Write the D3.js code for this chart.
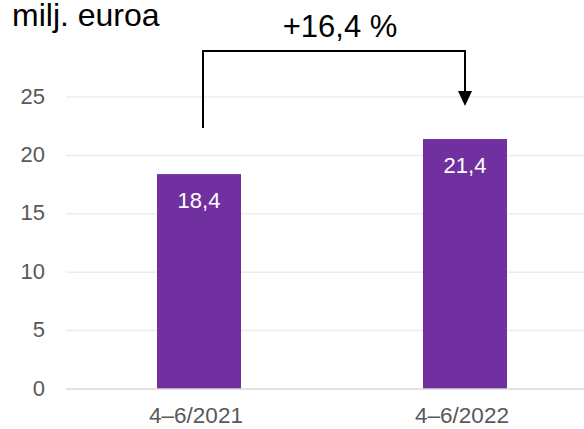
<!DOCTYPE html>
<html><head><meta charset="utf-8">
<script src="https://cdn.jsdelivr.net/npm/d3@7"></script>
<style>body{margin:0;background:#fff}svg{display:block}</style>
</head><body>
<script>
const categories = ["4–6/2021", "4–6/2022"];
const values = [18.4, 21.4];
const valueLabels = ["18,4", "21,4"];
const yTicks = [0, 5, 10, 15, 20, 25];
const unitLabel = "milj. euroa";
const changeLabel = "+16,4 %";

const W = 584, H = 429;
const svg = d3.select("body").append("svg").attr("width", W).attr("height", H);
const font = "Liberation Sans, Arial, sans-serif";

const y = d3.scaleLinear().domain([0, 25]).range([389, 97]);
const x = d3.scaleBand().domain(categories).range([66, 598]).padding(0);
const barW = 84;
const cx = c => x(c) + x.bandwidth() / 2;

// gridlines
svg.append("g").selectAll("line").data(yTicks.filter(d => d > 0)).join("line")
  .attr("x1", 66).attr("x2", W).attr("y1", d => y(d)).attr("y2", d => y(d))
  .attr("stroke", "#ececec").attr("stroke-width", 1.5);

// y labels
svg.append("g").selectAll("text").data(yTicks).join("text")
  .attr("x", 45).attr("y", d => y(d) + 6.5)
  .attr("text-anchor", "end").attr("font-family", font).attr("font-size", 22)
  .attr("fill", "#595959").text(d => d);

// bars
svg.append("g").selectAll("rect").data(values).join("rect")
  .attr("x", (d, i) => cx(categories[i]) - barW / 2)
  .attr("width", barW)
  .attr("y", d => y(d)).attr("height", d => y(0) - y(d))
  .attr("fill", "#7030A0");

// baseline
svg.append("line").attr("x1", 66).attr("x2", W).attr("y1", y(0)).attr("y2", y(0))
  .attr("stroke", "#d9d9d9").attr("stroke-width", 1.5);

// value labels
svg.append("g").selectAll("text").data(values).join("text")
  .attr("x", (d, i) => cx(categories[i]))
  .attr("y", d => y(d) + 34)
  .attr("text-anchor", "middle").attr("font-family", font).attr("font-size", 22)
  .attr("fill", "#fff").text((d, i) => valueLabels[i]);

// x labels
svg.append("g").selectAll("text").data(categories).join("text")
  .attr("x", d => cx(d) - 3).attr("y", 423)
  .attr("text-anchor", "middle").attr("font-family", font).attr("font-size", 22.5)
  .attr("fill", "#595959").text(d => d);

// unit label
svg.append("text").attr("x", 12).attr("y", 26).attr("font-family", font)
  .attr("font-size", 32).attr("fill", "#000").text(unitLabel);

// bracket
const xl = cx(categories[0]) + 4;
const xr = cx(categories[1]);
const topY = 51;
svg.append("path")
  .attr("d", `M${xl},128 L${xl},${topY} L${xr},${topY} L${xr},92`)
  .attr("fill", "none").attr("stroke", "#000").attr("stroke-width", 2);
svg.append("path")
  .attr("d", `M${xr - 7},91 L${xr + 7},91 L${xr},106 Z`).attr("fill", "#000");

svg.append("text").attr("x", 340).attr("y", 37)
  .attr("text-anchor", "middle").attr("font-family", font).attr("font-size", 31)
  .attr("fill", "#000").text(changeLabel);
</script>
</body></html>
